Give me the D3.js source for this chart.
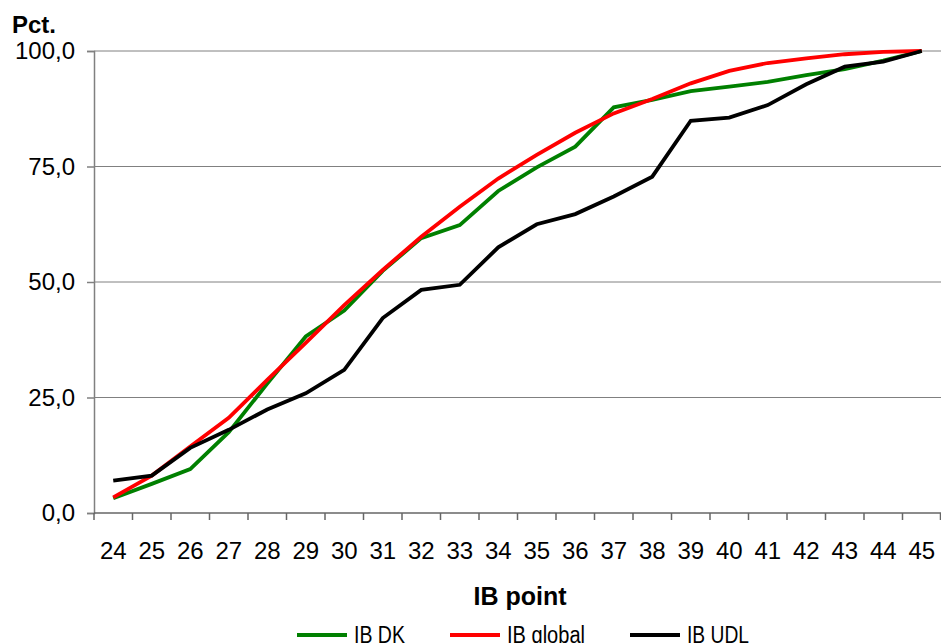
<!DOCTYPE html>
<html>
<head>
<meta charset="utf-8">
<script src="https://cdn.jsdelivr.net/npm/d3@7"></script>
<style>
  body { margin: 0; background: #fff; }
  text { font-family: "Liberation Sans", Arial, sans-serif; }
</style>
</head>
<body>
<svg id="chart" width="941" height="643"></svg>
<script>
var categories = ["24","25","26","27","28","29","30","31","32","33","34","35","36","37","38","39","40","41","42","43","44","45"];

var ibDK = [3.2, 6.3, 9.5, 17.5, 28.0, 38.2, 43.8, 52.4, 59.5, 62.3, 69.7, 74.8, 79.3, 87.8, 89.4, 91.3, 92.3, 93.3, 94.8, 96.1, 97.9, 100.0];
var ibGlobal = [3.4, 8.1, 14.4, 20.6, 28.8, 36.8, 45.0, 52.6, 59.8, 66.3, 72.4, 77.5, 82.3, 86.5, 89.6, 93.0, 95.7, 97.4, 98.4, 99.3, 99.8, 100.0];
var ibUDL = [7.0, 8.1, 14.1, 18.0, 22.4, 25.9, 31.0, 42.2, 48.3, 49.4, 57.5, 62.5, 64.7, 68.5, 72.8, 84.9, 85.6, 88.3, 92.8, 96.6, 97.7, 100.0];

var yTicks = [0, 25, 50, 75, 100];

var series = [
  { name: "IB DK", values: ibDK, color: "#008000" },
  { name: "IB global", values: ibGlobal, color: "#ff0000" },
  { name: "IB UDL", values: ibUDL, color: "#000000" }
];

var plotLeft = 94, plotRight = 941, plotTop = 51, plotBottom = 513;
var lineWidth = 3.8;
var fmt = function (d) { return d3.format(".1f")(d).replace(".", ","); };

var xScale = d3.scaleBand()
  .domain(categories)
  .range([plotLeft, plotRight])
  .padding(0);

var yScale = d3.scaleLinear()
  .domain([0, 100])
  .range([plotBottom, plotTop]);

var svg = d3.select("svg#chart");

/* grid lines */
svg.append("g")
  .selectAll("line")
  .data(yTicks.filter(d => d > 0))
  .enter().append("line")
  .attr("x1", plotLeft).attr("x2", plotRight)
  .attr("y1", d => yScale(d)).attr("y2", d => yScale(d))
  .attr("stroke", "#808080")
  .attr("stroke-width", 1);

/* y axis */
var yAxis = svg.append("g")
  .attr("transform", "translate(" + plotLeft + ",0)")
  .call(d3.axisLeft(yScale).tickValues(yTicks).tickSize(7).tickPadding(12).tickFormat(fmt));
yAxis.select(".domain").attr("stroke", "#808080").attr("stroke-width", 1.5);
yAxis.selectAll(".tick line").attr("stroke", "#808080").attr("stroke-width", 1.5);
yAxis.selectAll("text")
  .attr("font-size", "24px")
  .attr("fill", "#000")
  .attr("font-family", "'Liberation Sans', Arial, sans-serif");

/* x axis */
var xAxis = svg.append("g")
  .attr("transform", "translate(0," + plotBottom + ")");
xAxis.append("line")
  .attr("x1", plotLeft).attr("x2", plotRight)
  .attr("y1", 0).attr("y2", 0)
  .attr("stroke", "#666")
  .attr("stroke-width", 1.5);
xAxis.selectAll(".xtick")
  .data(categories.concat(["end"]))
  .enter().append("line")
  .attr("class", "xtick")
  .attr("x1", d => d === "end" ? plotRight - 0.5 : xScale(d))
  .attr("x2", d => d === "end" ? plotRight - 0.5 : xScale(d))
  .attr("y1", 0).attr("y2", 7)
  .attr("stroke", "#666")
  .attr("stroke-width", 1.5);
xAxis.selectAll(".xlabel")
  .data(categories)
  .enter().append("text")
  .attr("class", "xlabel")
  .attr("x", d => xScale(d) + xScale.bandwidth() / 2)
  .attr("y", 46)
  .attr("text-anchor", "middle")
  .attr("font-size", "24px")
  .text(d => d);

/* lines */
var line = d3.line()
  .x((d, i) => xScale(categories[i]) + xScale.bandwidth() / 2)
  .y(d => yScale(d));

svg.append("g")
  .selectAll("path")
  .data(series)
  .enter().append("path")
  .attr("d", d => line(d.values))
  .attr("fill", "none")
  .attr("stroke", d => d.color)
  .attr("stroke-width", lineWidth)
  .attr("stroke-linejoin", "miter");

/* titles */
svg.append("text")
  .attr("x", 12).attr("y", 33)
  .attr("font-size", "24px")
  .attr("font-weight", "bold")
  .text("Pct.");

svg.append("text")
  .attr("x", 520).attr("y", 605)
  .attr("text-anchor", "middle")
  .attr("font-size", "25px")
  .attr("font-weight", "bold")
  .text("IB point");

/* legend (bottom row is cropped by the picture edge, as in the source) */
var legendX = [297, 450, 630];
var legendTextWidth = [51, 78, 62];
var legend = svg.append("g")
  .selectAll("g")
  .data(series)
  .enter().append("g")
  .attr("transform", (d, i) => "translate(" + legendX[i] + ",635)");
legend.append("line")
  .attr("x1", 0).attr("x2", 50)
  .attr("stroke", d => d.color)
  .attr("stroke-width", lineWidth);
legend.append("text")
  .attr("x", 57).attr("y", 8)
  .attr("font-size", "23px")
  .attr("textLength", (d, i) => legendTextWidth[i])
  .attr("lengthAdjust", "spacingAndGlyphs")
  .text(d => d.name);
</script>
</body>
</html>
